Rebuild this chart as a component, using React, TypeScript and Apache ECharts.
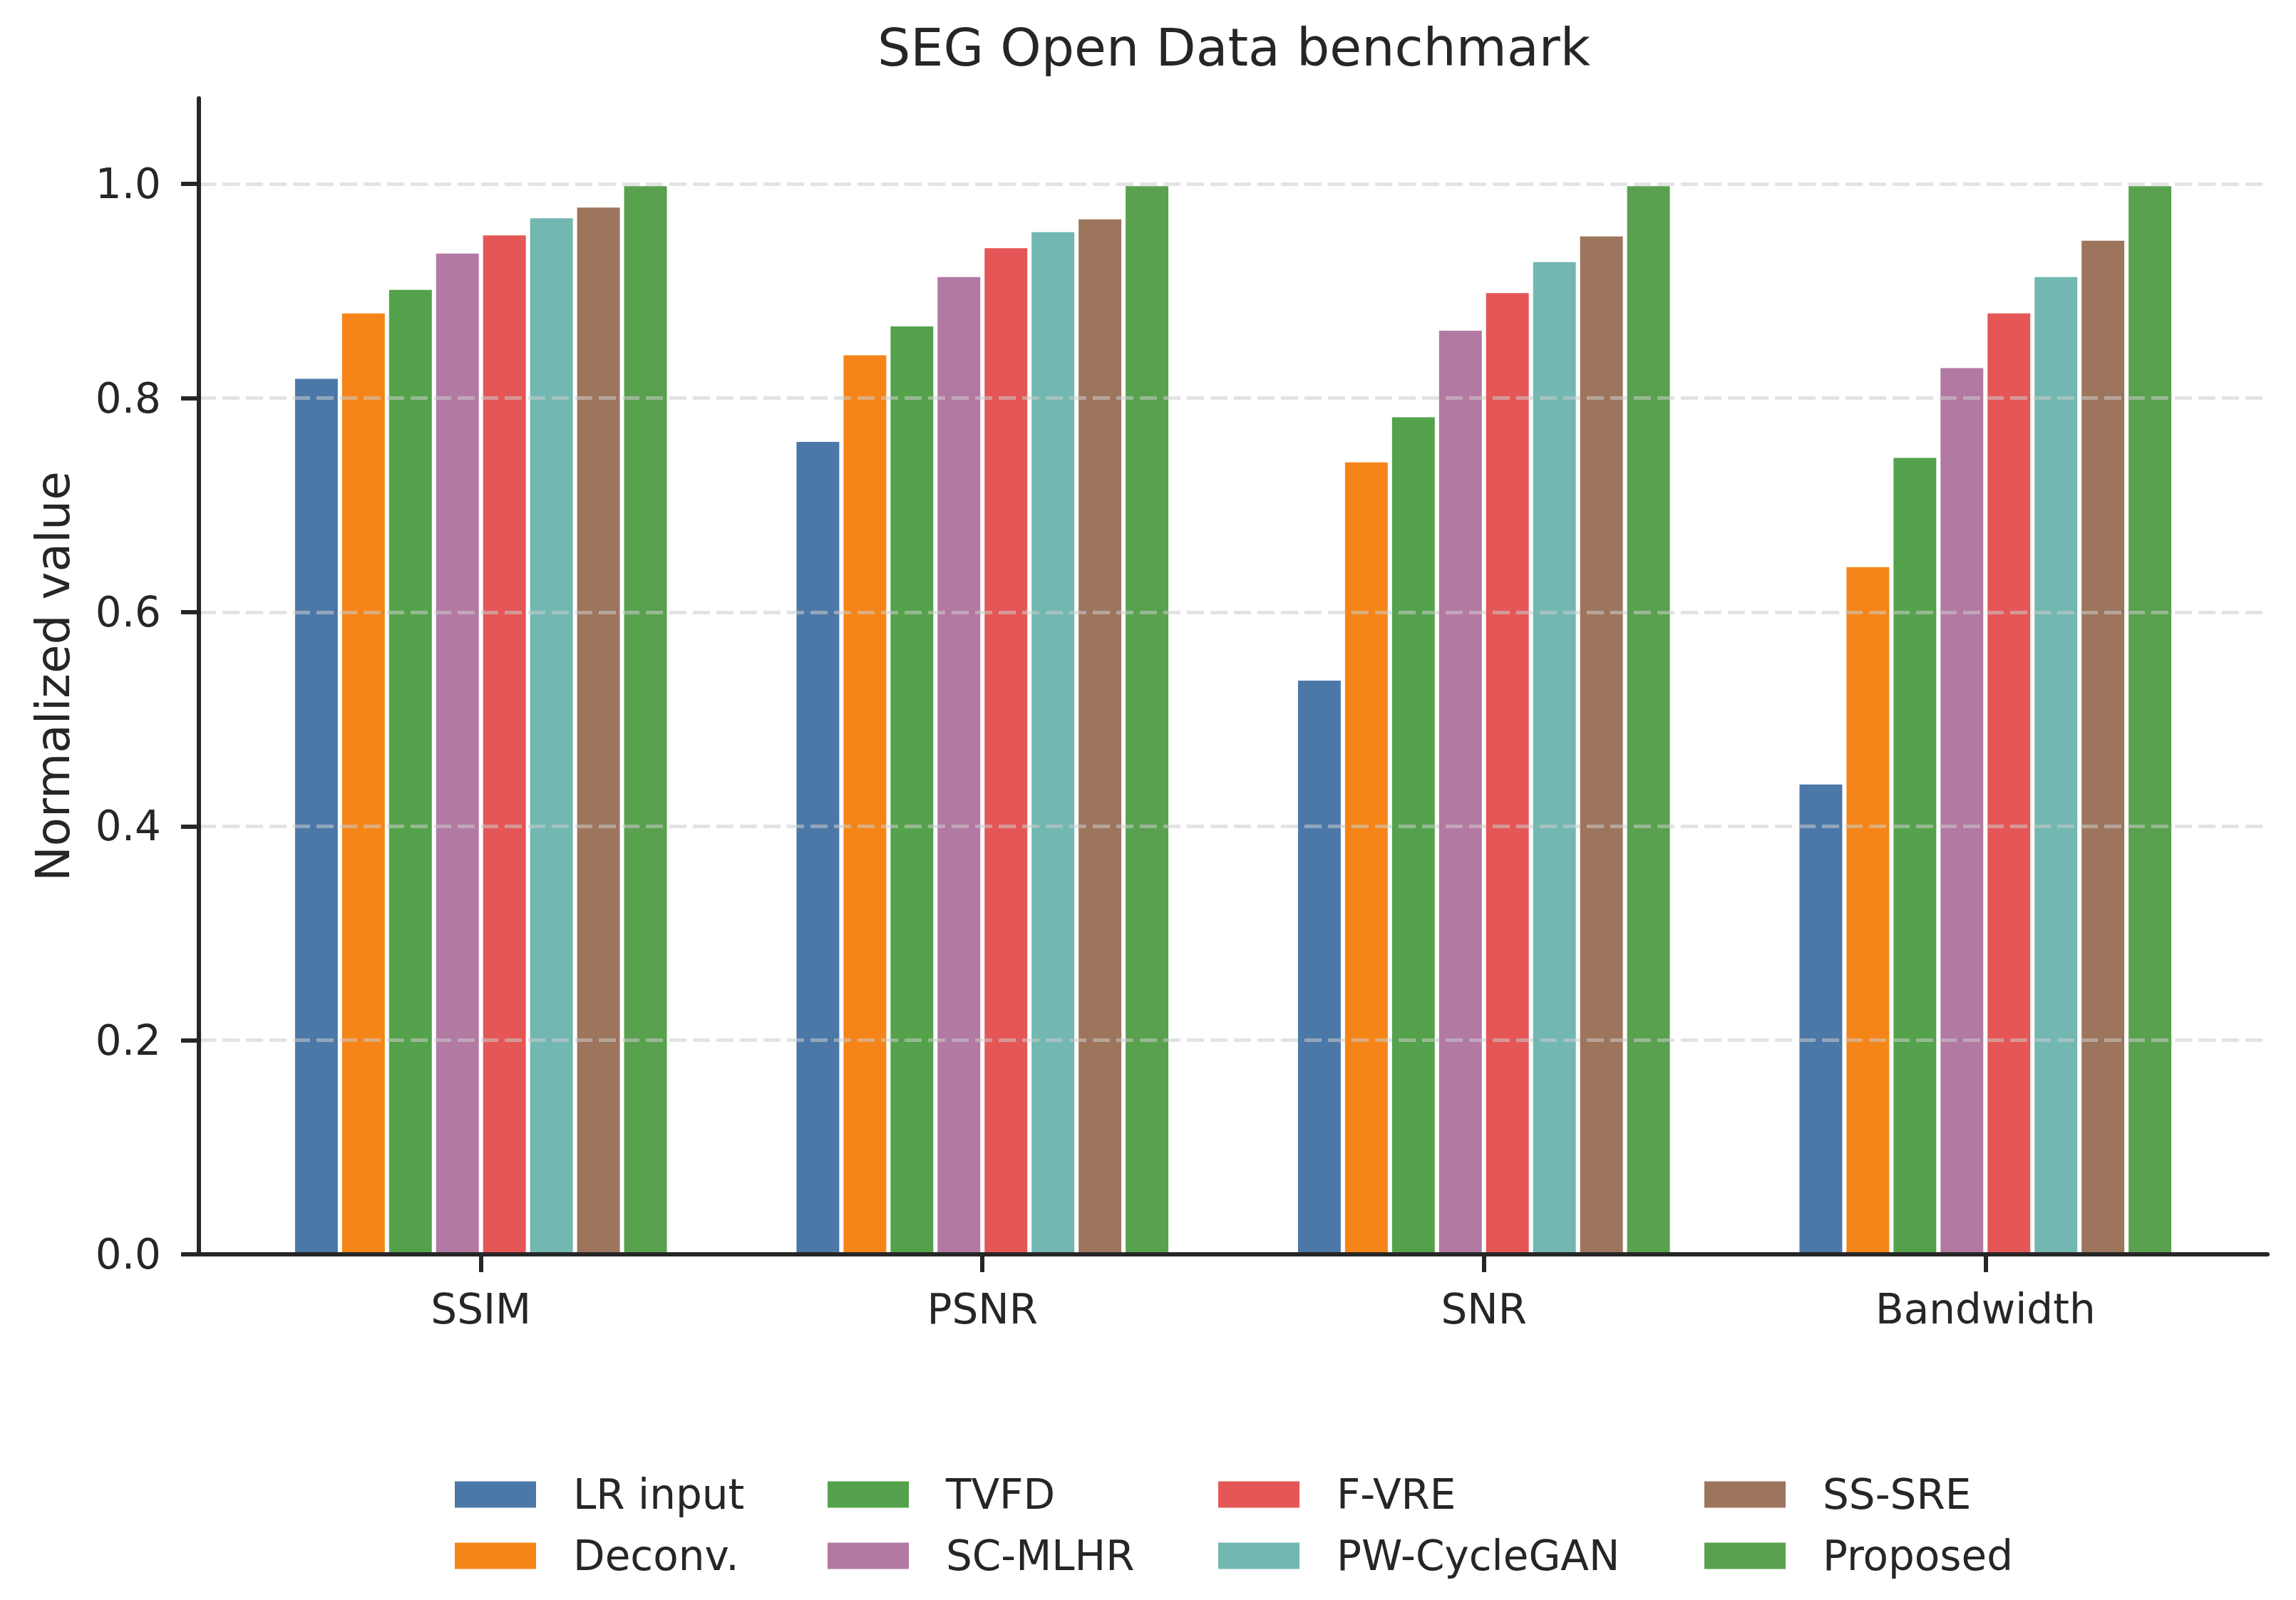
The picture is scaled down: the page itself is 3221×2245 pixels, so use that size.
import React, { useEffect, useRef } from "react";
import * as echarts from "echarts";

const categories = ["SSIM", "PSNR", "SNR", "Bandwidth"];
const categoryPositions = [0, 1, 2, 3];
const methods = ["LR input", "Deconv.", "TVFD", "SC-MLHR", "F-VRE", "PW-CycleGAN", "SS-SRE", "Proposed"];
const colors = ["#4c78a8", "#f58518", "#54a24b", "#b279a2", "#e45756", "#72b7b2", "#9d755d", "#59a14f"];

const lrInput = [0.82, 0.761, 0.538, 0.441];
const deconv = [0.881, 0.842, 0.742, 0.644];
const tvfd = [0.903, 0.869, 0.784, 0.746];
const scMlhr = [0.937, 0.915, 0.865, 0.83];
const fVre = [0.954, 0.942, 0.9, 0.881];
const pwCycleGan = [0.97, 0.957, 0.929, 0.915];
const ssSre = [0.98, 0.969, 0.953, 0.949];
const proposed = [1.0, 1.0, 1.0, 1.0];

const seriesValues = [lrInput, deconv, tvfd, scMlhr, fVre, pwCycleGan, ssSre, proposed];

const yTicks = [0, 0.2, 0.4, 0.6, 0.8, 1.0];
const legendColumns = [
  ["LR input", "Deconv."],
  ["TVFD", "SC-MLHR"],
  ["F-VRE", "PW-CycleGAN"],
  ["SS-SRE", "Proposed"],
];
const legendLefts = [638, 1161, 1709, 2391];

const FONT = "DejaVu Sans";
const INK = "#262626";

export default function App() {
  const ref = useRef<HTMLDivElement>(null);

  useEffect(() => {
    document.body.style.margin = "0";
    if (!ref.current) return;
    const chart = echarts.init(ref.current, null, { renderer: "svg" });

    const series = methods.map((name, i) => ({
      name,
      type: "bar",
      data: categoryPositions.map((x, j) => [x, seriesValues[i][j]]),
      barGap: "0%",
      barCategoryGap: "25%",
      itemStyle: { color: colors[i], borderColor: "#ffffff", borderWidth: 3 },
      emphasis: { disabled: true },
    }));

    const legends = legendColumns.map((cols, k) => ({
      orient: "vertical",
      left: legendLefts[k],
      top: 2068,
      padding: 0,
      data: cols,
      icon: "rect",
      itemWidth: 114,
      itemHeight: 37,
      itemGap: 28,
      selectedMode: false,
      itemStyle: { borderWidth: 0 },
      textStyle: {
        fontFamily: FONT,
        fontSize: 58,
        color: INK,
        lineHeight: 58,
        padding: [0, 0, 0, 47],
      },
    }));

    chart.setOption({
      animation: false,
      backgroundColor: "#ffffff",
      title: {
        text: "SEG Open Data benchmark",
        left: 1726,
        textAlign: "center",
        top: 25,
        textStyle: { fontFamily: FONT, fontSize: 73, fontWeight: "normal", color: INK },
      },
      legend: legends,
      grid: { left: 279, right: 40, top: 138, bottom: 485, containLabel: false },
      xAxis: {
        type: "value",
        min: -0.5625,
        max: 3.5625,
        z: 5,
        splitLine: { show: false },
        axisLine: { show: true, onZero: false, lineStyle: { color: INK, width: 6 } },
        axisTick: { show: true, length: 25, customValues: categoryPositions, lineStyle: { color: INK, width: 6 } },
        axisLabel: {
          customValues: categoryPositions,
          formatter: (v: number) => categories[Math.round(v)] ?? "",
          fontFamily: FONT,
          fontSize: 58,
          color: INK,
          margin: 48,
        },
      },
      yAxis: {
        type: "value",
        min: 0,
        max: 1.08,
        interval: 0.2,
        z: 5,
        name: "Normalized value",
        nameLocation: "middle",
        nameGap: 172,
        nameTextStyle: { fontFamily: FONT, fontSize: 66, color: INK },
        axisLine: { show: true, onZero: false, lineStyle: { color: INK, width: 6 } },
        axisTick: { show: true, length: 25, customValues: yTicks, lineStyle: { color: INK, width: 6 } },
        axisLabel: {
          customValues: yTicks,
          formatter: (v: number) => v.toFixed(1),
          fontFamily: FONT,
          fontSize: 58,
          color: INK,
          margin: 53,
        },
        splitLine: {
          show: true,
          lineStyle: { color: "rgba(204,204,204,0.55)", width: 5, type: [24, 9] },
        },
      },
      series,
    });

    return () => chart.dispose();
  }, []);

  return <div ref={ref} style={{ width: 3221, height: 2245 }} />;
}
